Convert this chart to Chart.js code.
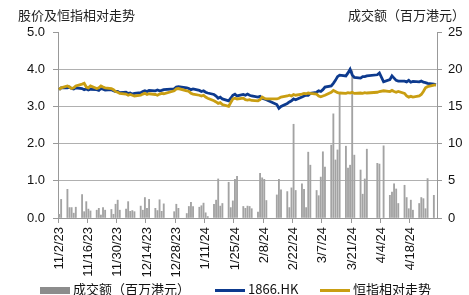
<!DOCTYPE html>
<html>
<head>
<meta charset="utf-8">
<script src="https://cdn.jsdelivr.net/npm/chart.js@4.4.1/dist/chart.umd.min.js"></script>
<style>
    body { margin: 0; background: #fff; }
    #wrap { position: relative; width: 469px; height: 295px; }
    .head { position: absolute; top: 6px; font: 13px "Noto Sans CJK SC", sans-serif; color: #222; line-height: 18px; }
    .leg { position: absolute; top: 280px; height: 18px; font: 13px "Noto Sans CJK SC", "Liberation Sans", sans-serif; color: #111; line-height: 18px; white-space: nowrap; }
    .leg i { display: inline-block; width: 30px; vertical-align: middle; margin-right: 3px; }
</style>
</head>
<body>
<div id="wrap">
    <canvas id="main" width="469" height="295"></canvas>
    <div class="head" style="left:18px">股价及恒指相对走势</div>
    <div class="head" style="right:4px">成交额（百万港元）</div>
</div>
<script>
// Trading days, Mon-Fri rows (null = HK holiday), first row starts Thu 11/2/23
const volume = [
    0.5, 2.5,
    3.85, 1.4, 1.4, 0.65, 1.45,
    3.15, 0.85, 2.2, 1.2, 0.95,
    1.05, 1.3, 0.4, 1.4, 1.05,
    1.15, 0.5, 1.85, 2.4, 1.05,
    1.2, 2.2, 0.9, 1.0, 0.85,
    1.6, 1.05, 2.75, 1.3, 2.5,
    1.3, 1.0, 2.45, 0.9, 1.9,
    null, null, 0.85, 1.85, 1.3,
    null, 0.6, 1.55, 2.1, 1.55,
    1.45, 1.65, 2.0, 0.7, 0.2,
    1.85, 2.4, 5.25, 1.6, 1.95,
    4.8, 1.4, 2.3, 5.2, 5.6,
    1.55, 1.3, 1.6, 1.55, 1.25,
    0.8, 6.0, 5.4, 5.2, 2.35,
    null, null, 3.1, 5.2, 3.8,
    3.55, 1.4, 4.05, 12.6, 3.7,
    4.6, 3.85, 1.4, 8.85, 7.1,
    3.7, 3.0, 5.5, 8.9, 6.85,
    9.8, 14.0, 7.8, 9.15, 16.7,
    9.65, 6.7, 7.1, 19.8, 8.45,
    6.45, 3.2, 5.25, 9.25, null,
    null, 7.35, 7.25, null, 9.7,
    3.05, 3.5, 4.6, 3.9, 1.95,
    4.4, 2.75, 1.25, 2.4, 1.05,
    1.95, 2.75, 2.6, 1.25, 5.3,
    3.05, null
]

const stock1866 = [
    3.45, 3.50,
    3.50, 3.52, 3.48, 3.47, 3.50,
    3.48, 3.45, 3.47, 3.44, 3.46,
    3.45, 3.43, 3.48, 3.46, 3.44,
    3.45, 3.42, 3.40, 3.40, 3.37,
    3.38, 3.35, 3.36, 3.33, 3.35,
    3.37, 3.40, 3.42, 3.40, 3.43,
    3.42, 3.44, 3.42, 3.43, 3.45,
    null, null, 3.47, 3.52, 3.53,
    null, 3.50, 3.48, 3.45, 3.47,
    3.43, 3.40, 3.42, 3.38, 3.36,
    3.32, 3.28, 3.22, 3.25, 3.20,
    3.15, 3.22, 3.30, 3.33, 3.28,
    3.32, 3.30, 3.33, 3.30, 3.28,
    3.25, 3.27, 3.22, 3.20, 3.18,
    null, null, 3.05, 2.95, 3.00,
    3.08, 3.12, 3.15, 3.20, 3.18,
    3.25, 3.28, 3.30, 3.30, 3.35,
    3.38, 3.42, 3.40, 3.45, 3.52,
    3.55, 3.62, 3.70, 3.80, 3.84,
    3.82, 3.90, 4.00, 3.85, 3.78,
    3.76, 3.80, 3.80, 3.82, null,
    null, 3.85, 3.90, null, 3.66,
    3.72, 3.82, 3.76, 3.70, 3.68,
    3.68, 3.66, 3.70, 3.65, 3.67,
    3.66, 3.68, 3.65, 3.64, 3.62,
    3.60, 3.58
]

const hsiRelative = [
    3.45, 3.50,
    3.55, 3.52, 3.48, 3.50, 3.55,
    3.60, 3.62, 3.52, 3.50, 3.55,
    3.48, 3.50, 3.55, 3.52, 3.50,
    3.48, 3.45, 3.40, 3.38, 3.35,
    3.33, 3.30, 3.32, 3.30, 3.28,
    3.30, 3.33, 3.35, 3.32, 3.34,
    3.32, 3.30, 3.33, 3.35, 3.34,
    null, null, 3.42, 3.47, 3.48,
    null, 3.42, 3.40, 3.35, 3.33,
    3.30, 3.28, 3.30, 3.25, 3.22,
    3.15, 3.12, 3.08, 3.10, 3.05,
    3.00, 3.10, 3.20, 3.22, 3.20,
    3.22, 3.18, 3.17, 3.18, 3.16,
    3.15, 3.18, 3.25, 3.22, 3.20,
    null, null, 3.20, 3.22, 3.25,
    3.28, 3.30, 3.28, 3.32, 3.30,
    3.33, 3.35, 3.34, 3.36, 3.35,
    3.33, 3.28, 3.26, 3.28, 3.30,
    3.38, 3.43, 3.40, 3.37, 3.36,
    3.35, 3.37, 3.36, 3.38, 3.35,
    3.36, 3.35, 3.37, 3.36, null,
    null, 3.38, 3.40, null, 3.42,
    3.40, 3.43, 3.40, 3.38, 3.40,
    3.35, 3.28, 3.25, 3.27, 3.25,
    3.28, 3.32, 3.40, 3.50, 3.53,
    3.57, 3.58
]

const startDate = new Date(2023, 10, 2)
const endDate = new Date(2024, 3, 30)
const tickEvery = 14   // one tick label every two weeks

// Spread the trading-day values over a calendar-day axis (weekends empty)
let labels = [], volData = [], stockData = [], hsiData = []
let k = 0
for (let d = new Date(startDate); d <= endDate; d.setDate(d.getDate() + 1)) {
    labels.push((d.getMonth() + 1) + '/' + d.getDate() + '/' + String(d.getFullYear()).slice(2))
    let wd = d.getDay()
    if (wd === 0 || wd === 6) {
        volData.push(null); stockData.push(null); hsiData.push(null)
    } else {
        volData.push(volume[k]); stockData.push(stock1866[k]); hsiData.push(hsiRelative[k])
        k++
    }
}

const axisFont = { family: '"Liberation Sans", Arial, sans-serif', size: 13 }

let chart = new Chart('main', {
    data: {
        labels: labels,
        datasets: [
            {
                type: 'bar',
                label: '成交额（百万港元）',
                data: volData,
                yAxisID: 'y1',
                backgroundColor: '#a3a3a3',
                borderWidth: 0,
                barThickness: 1.2,
                order: 3
            },
            {
                type: 'line',
                label: '1866.HK',
                data: stockData,
                yAxisID: 'y',
                borderColor: '#0d3a8e',
                backgroundColor: '#0d3a8e',
                borderWidth: 2.8,
                pointRadius: 0,
                spanGaps: true,
                tension: 0,
                order: 2
            },
            {
                type: 'line',
                label: '恒指相对走势',
                data: hsiData,
                yAxisID: 'y',
                borderColor: '#c99e12',
                backgroundColor: '#c99e12',
                borderWidth: 2.8,
                pointRadius: 0,
                spanGaps: true,
                tension: 0,
                order: 1
            }
        ]
    },
    options: {
        responsive: false,
        animation: false,
        layout: { padding: { top: 32, left: 0, right: 0, bottom: 17 } },
        scales: {
            x: {
                offset: true,
                afterFit: function(scale) { scale.height = 60 },
                grid: {
                    drawOnChartArea: false,
                    tickLength: 5,
                    tickColor: function(ctx) {
                        return ctx.index % tickEvery === 0 ? '#999' : 'rgba(0,0,0,0)'
                    }
                },
                border: { color: '#999' },
                ticks: {
                    autoSkip: false,
                    minRotation: 90,
                    maxRotation: 90,
                    padding: 4,
                    color: '#111',
                    font: axisFont,
                    callback: function(v, i) {
                        return i % tickEvery === 0 ? this.getLabelForValue(v) : ''
                    }
                }
            },
            y: {
                position: 'left',
                min: 0,
                max: 5,
                afterFit: function(scale) { scale.width = 58 },
                grid: {
                    color: function(ctx) {
                        return ctx.tick.value === 5 ? 'rgba(0,0,0,0)' : '#b0b0b0'
                    },
                    tickColor: '#999',
                    tickLength: 5
                },
                border: { color: '#999' },
                ticks: {
                    stepSize: 1,
                    color: '#111',
                    font: axisFont,
                    padding: 8,
                    callback: function(v) { return v.toFixed(1) }
                }
            },
            y1: {
                position: 'right',
                min: 0,
                max: 25,
                afterFit: function(scale) { scale.width = 32 },
                grid: { drawOnChartArea: false, tickColor: '#999', tickLength: 5 },
                border: { color: '#999' },
                ticks: { stepSize: 5, color: '#111', font: axisFont, padding: 6 }
            }
        },
        plugins: {
            legend: { display: false },
            title: { display: false },
            tooltip: { enabled: false }
        }
    }
})

// Legend below the chart, built from the datasets
const legendLeft = [40, 215, 320]
chart.data.datasets.forEach(function(ds, i) {
    let item = document.createElement('div')
    item.className = 'leg'
    item.style.left = legendLeft[i] + 'px'
    let mark = document.createElement('i')
    mark.style.height = ds.type === 'bar' ? '7px' : '3px'
    mark.style.background = ds.type === 'bar' ? '#8c8c8c' : ds.borderColor
    item.appendChild(mark)
    item.appendChild(document.createTextNode(ds.label))
    document.getElementById('wrap').appendChild(item)
})
</script>
</body>
</html>
